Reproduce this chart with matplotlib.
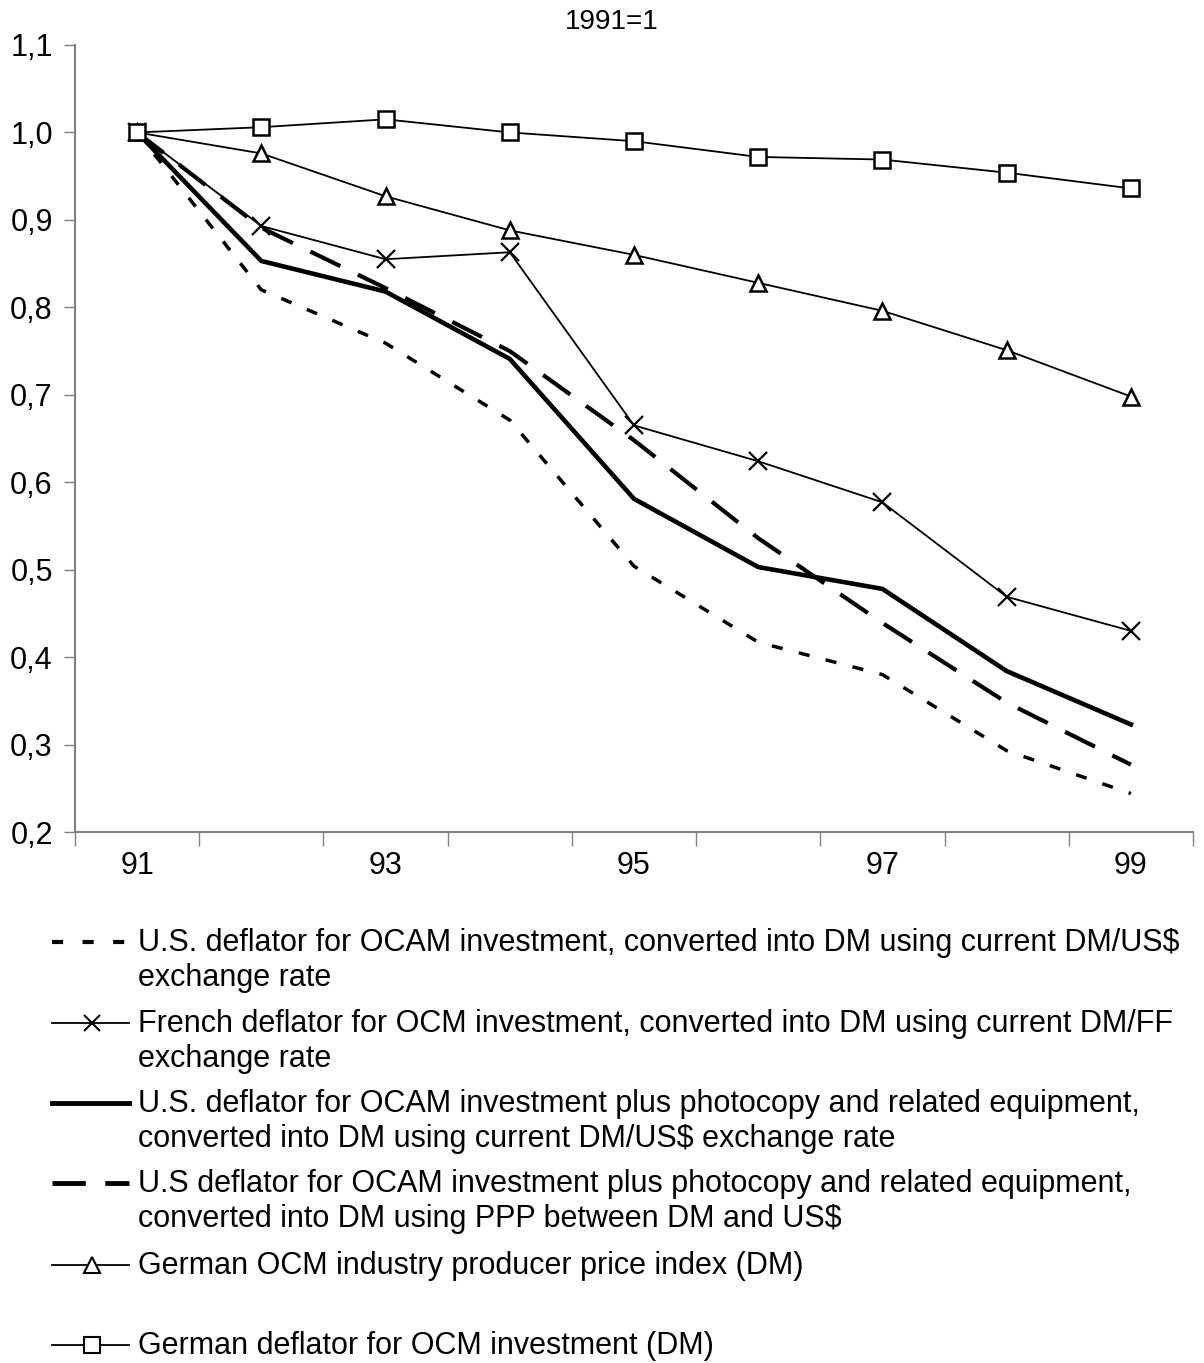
import matplotlib
matplotlib.use('Agg')
import matplotlib.pyplot as plt
from matplotlib.lines import Line2D

plt.rcParams['font.family'] = ['Liberation Sans', 'DejaVu Sans']
plt.rcParams['lines.scale_dashes'] = False

# 数据
years = [91, 92, 93, 94, 95, 96, 97, 98, 99]
us_ocam_fx = [1.000, 0.820, 0.759, 0.671, 0.504, 0.417, 0.380, 0.293, 0.244]
french_ocm = [1.000, 0.893, 0.855, 0.863, 0.665, 0.624, 0.577, 0.469, 0.430]
us_photo_fx = [1.000, 0.853, 0.818, 0.741, 0.581, 0.503, 0.478, 0.384, 0.323]
us_photo_ppp = [1.000, 0.891, 0.822, 0.750, 0.648, 0.536, 0.439, 0.348, 0.277]
german_ppi = [1.000, 0.976, 0.927, 0.888, 0.860, 0.828, 0.796, 0.751, 0.698]
german_defl = [1.000, 1.006, 1.015, 1.000, 0.990, 0.972, 0.969, 0.954, 0.936]

x_labels = ['91', '93', '95', '97', '99']
y_ticks = [0.2, 0.3, 0.4, 0.5, 0.6, 0.7, 0.8, 0.9, 1.0, 1.1]

legend_texts = [
    'U.S. deflator for OCAM investment, converted into DM using current DM/US\\$\nexchange rate',
    'French deflator for OCM investment, converted into DM using current DM/FF\nexchange rate',
    'U.S. deflator for OCAM investment plus photocopy and related equipment,\nconverted into DM using current DM/US\\$ exchange rate',
    'U.S deflator for OCAM investment plus photocopy and related equipment,\nconverted into DM using PPP between DM and US\\$',
    'German OCM industry producer price index (DM)',
    'German deflator for OCM investment (DM)',
]

W, H = 1204, 1363
FS = 22
fig = plt.figure(figsize=(W / 100, H / 100), dpi=100)

# 主图
ax = fig.add_axes([75 / W, 1 - 832 / H, 1118 / W, 787 / H])

styles = [
    dict(color='black', lw=2.5, ls=(0, (8, 12))),
    dict(color='black', lw=1.3, marker='x', ms=13, mew=1.6),
    dict(color='black', lw=3.3),
    dict(color='black', lw=3.0, ls=(0, (24, 14))),
    dict(color='black', lw=1.3, marker='^', ms=11, mew=1.8, mfc='white'),
    dict(color='black', lw=1.3, marker='s', ms=11, mew=1.8, mfc='white'),
]
series = [us_ocam_fx, french_ocm, us_photo_fx, us_photo_ppp, german_ppi, german_defl]

for vals, st in zip(series, styles):
    ax.plot(years, vals, clip_on=False, **st)

ax.set_xlim(90.5, 99.5)
ax.set_ylim(0.2, 1.1)

# x轴: 刻度在类别之间
ax.set_xticks([y - 0.5 for y in years] + [99.5])
ax.set_xticklabels([])
ax.set_xticks([int(s) for s in x_labels], minor=True)
ax.set_xticklabels(x_labels, minor=True)
ax.tick_params(axis='x', which='major', direction='out', length=10, width=1, color='#808080')
ax.tick_params(axis='x', which='minor', length=0, pad=14, labelsize=FS)

ax.set_yticks(y_ticks)
ax.set_yticklabels([f'{v:.1f}'.replace('.', ',') for v in y_ticks])
ax.tick_params(axis='y', direction='out', length=8, width=1, color='#808080', labelsize=FS, pad=8)

for side in ['top', 'right']:
    ax.spines[side].set_visible(False)
for side in ['left', 'bottom']:
    ax.spines[side].set_color('#808080')
    ax.spines[side].set_linewidth(1.5)

fig.text(612 / W, 1 - 22 / H, '1991=1', ha='center', va='center', fontsize=20)

# 图例 (像素坐标)
lg = fig.add_axes([0, 0, 1, 1])
lg.set_xlim(0, W)
lg.set_ylim(H, 0)
lg.axis('off')

leg_y = [942, 1023, 1103, 1183, 1265, 1345]
leg_styles = [
    dict(color='black', lw=3.0, ls=(0, (8, 14))),
    dict(color='black', lw=1.3, marker='x', ms=12, mew=1.5),
    dict(color='black', lw=3.5),
    dict(color='black', lw=3.5, ls=(0, (24, 14))),
    dict(color='black', lw=1.3, marker='^', ms=11, mew=1.5, mfc='white'),
    dict(color='black', lw=1.3, marker='s', ms=11, mew=1.5, mfc='white'),
]
for yy, st, txt in zip(leg_y, leg_styles, legend_texts):
    mk = st.pop('marker', None)
    ms = st.pop('ms', None)
    mew = st.pop('mew', None)
    mfc = st.pop('mfc', None)
    lg.add_line(Line2D([52, 129], [yy, yy], **st))
    if mk:
        lg.add_line(Line2D([92], [yy], marker=mk, ms=ms, mew=mew, mfc=mfc or 'none',
                           color='black', ls='none'))
    lg.text(138, yy - 14, txt, ha='left', va='top', fontsize=FS, linespacing=1.2)

fig.savefig('out.png', dpi=100)
